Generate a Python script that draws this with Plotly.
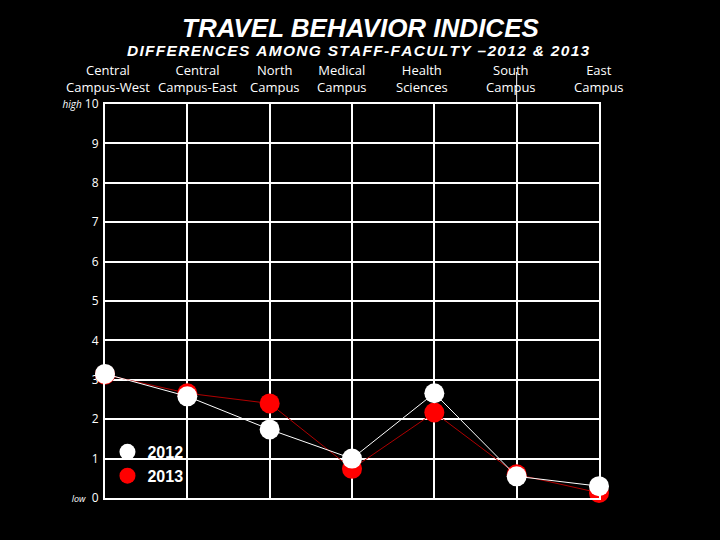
import plotly.graph_objects as go

categories = ["Central<br>Campus-West", "Central<br>Campus-East", "North<br>Campus",
              "Medical<br>Campus", "Health<br>Sciences", "South<br>Campus", "East<br>Campus"]
values_2012 = [3.15, 2.58, 1.74, 1.00, 2.66, 0.55, 0.30]
values_2013 = [3.13, 2.66, 2.40, 0.74, 2.17, 0.60, 0.13]
y_tickvals = [0, 1, 2, 3, 4, 5, 6, 7, 8, 9, 10]
y_ticktext = ["<span style='font-size:9px'><i>low</i></span>  0", "1", "2", "3", "4", "5",
              "6", "7", "8", "9", "<span style='font-size:10px'><i>high</i></span> 10"]
label_px = [108, 197, 275, 342, 422, 511, 599]

L, R, T, B = 105, 121, 104, 42
W, H = 720, 540
pw, ph = W - L - R, H - T - B

x_idx = list(range(len(categories)))

fig = go.Figure()
fig.add_trace(go.Scatter(
    x=x_idx, y=values_2013, name="2013", mode="lines+markers",
    line=dict(color="#b00000", width=1),
    marker=dict(color="#ff0000", size=20),
    cliponaxis=False, showlegend=False,
))
fig.add_trace(go.Scatter(
    x=x_idx, y=values_2012, name="2012", mode="lines+markers",
    line=dict(color="white", width=1),
    marker=dict(color="white", size=20),
    cliponaxis=False, showlegend=False,
))
# legend-only entries (markers only, as in the reference legend)
fig.add_trace(go.Scatter(x=[None], y=[None], name="2012", mode="markers",
                         marker=dict(color="white", size=18)))
fig.add_trace(go.Scatter(x=[None], y=[None], name="2013", mode="markers",
                         marker=dict(color="#ff0000", size=18)))

sp = "\u200a"
subtitle = sp.join(list("DIFFERENCES AMONG STAFF-FACULTY –2012 & 2013")).replace("&", "&amp;")

annotations = []
for lab, px in zip(categories, label_px):
    annotations.append(dict(
        text=lab, x=(px - L) / pw, y=(H - B - 79) / ph, xref="paper", yref="paper",
        xanchor="center", yanchor="middle", showarrow=False, align="center",
        font=dict(family="Open Sans", size=13, color="white"),
    ))
annotations.append(dict(
    text="<b><i>TRAVEL BEHAVIOR INDICES</i></b>", x=(360 - L) / pw, y=(H - B - 28) / ph,
    xref="paper", yref="paper", xanchor="center", yanchor="middle", showarrow=False,
    font=dict(family="Liberation Sans", size=26, color="white"),
))
annotations.append(dict(
    text="<b><i>" + subtitle + "</i></b>",
    x=(358 - L) / pw, y=(H - B - 51) / ph,
    xref="paper", yref="paper", xanchor="center", yanchor="middle", showarrow=False,
    font=dict(family="Liberation Sans", size=15.5, color="white"),
))

fig.update_layout(
    width=W, height=H,
    margin=dict(l=L, r=R, t=T, b=B, pad=0),
    paper_bgcolor="black", plot_bgcolor="black",
    showlegend=True,
    legend=dict(
        x=0.005, y=0.16, xanchor="left", yanchor="top",
        bgcolor="rgba(0,0,0,0)", tracegroupgap=0,
        font=dict(family="Liberation Sans", size=16, color="white", weight="bold"),
        itemsizing="trace",
    ),
    annotations=annotations,
    shapes=[dict(type="line", xref="x", yref="paper", x0=5, x1=5, y0=1, y1=(H - B - 72) / ph,
                 line=dict(color="white", width=1))],
)
fig.update_xaxes(
    range=[0, 6], tickvals=x_idx, showticklabels=False,
    showgrid=True, gridcolor="white", gridwidth=2,
    showline=True, linecolor="white", linewidth=2, mirror=True,
    zeroline=False, ticks="",
)
fig.update_yaxes(
    range=[0, 10], tickvals=y_tickvals, ticktext=y_ticktext,
    showgrid=True, gridcolor="white", gridwidth=2,
    showline=True, linecolor="white", linewidth=2, mirror=True,
    zeroline=False, ticks="", ticklabelstandoff=2,
    tickfont=dict(family="Open Sans", size=12, color="white"),
)

fig.write_html("out.html", config={"displayModeBar": False},
               post_script="document.body.style.margin='0';document.body.style.background='black';")
